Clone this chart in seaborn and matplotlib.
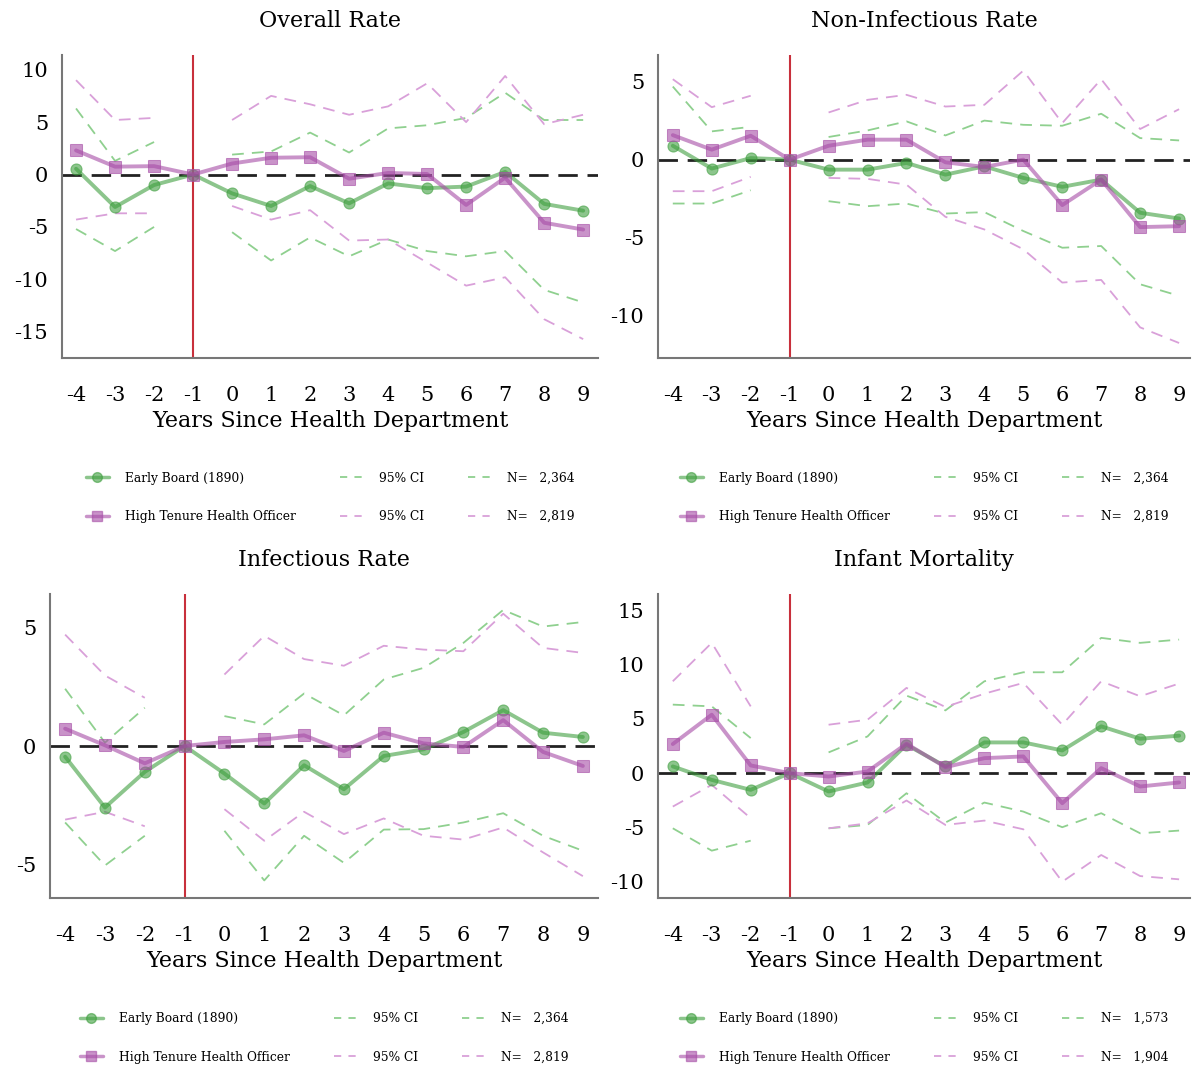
import numpy as np
import pandas as pd
import seaborn as sns
import matplotlib.pyplot as plt
from matplotlib.lines import Line2D

years = [-4, -3, -2, -1, 0, 1, 2, 3, 4, 5, 6, 7, 8, 9]
ci_years = [-4, -3, -2, 0, 1, 2, 3, 4, 5, 6, 7, 8, 9]

titles = ["Overall Rate", "Non-Infectious Rate", "Infectious Rate", "Infant Mortality"]
n_early = ["2,364", "2,364", "2,364", "1,573"]
n_high = ["2,819", "2,819", "2,819", "1,904"]
yticks = [[10, 5, 0, -5, -10, -15], [5, 0, -5, -10], [5, 0, -5], [15, 10, 5, 0, -5, -10]]
ylims = [(-17.5, 11.4), (-12.7, 6.7), (-6.4, 6.4), (-11.5, 16.5)]

# Overall Rate
overall_early = [0.55, -3.1, -1.0, 0, -1.8, -3.0, -1.1, -2.75, -0.85, -1.3, -1.15, 0.25, -2.8, -3.45]
overall_high = [2.3, 0.75, 0.8, 0, 1.05, 1.6, 1.65, -0.4, 0.15, 0.05, -2.9, -0.3, -4.6, -5.25]
overall_early_hi = [6.3, 1.3, 3.1, 1.9, 2.2, 4.0, 2.1, 4.4, 4.7, 5.4, 7.8, 5.2, 5.2]
overall_early_lo = [-5.2, -7.3, -5.0, -5.5, -8.2, -6.0, -7.8, -6.2, -7.3, -7.8, -7.3, -11.0, -12.2]
overall_high_hi = [9.0, 5.2, 5.4, 5.2, 7.5, 6.7, 5.7, 6.5, 8.7, 5.0, 9.4, 4.8, 5.7]
overall_high_lo = [-4.3, -3.7, -3.7, -3.0, -4.3, -3.4, -6.3, -6.2, -8.4, -10.6, -9.8, -13.8, -15.7]

# Non-Infectious Rate
noninf_early = [0.89, -0.57, 0.1, 0, -0.64, -0.64, -0.21, -0.96, -0.43, -1.17, -1.74, -1.28, -3.4, -3.77]
noninf_high = [1.57, 0.64, 1.53, 0, 0.89, 1.28, 1.28, -0.17, -0.47, 0.0, -2.91, -1.28, -4.32, -4.26]
noninf_early_hi = [4.68, 1.81, 2.1, 1.45, 1.87, 2.45, 1.55, 2.5, 2.23, 2.17, 2.94, 1.38, 1.23]
noninf_early_lo = [-2.81, -2.81, -1.96, -2.66, -2.98, -2.81, -3.45, -3.36, -4.57, -5.64, -5.53, -7.98, -8.72]
noninf_high_hi = [5.15, 3.36, 4.09, 3.02, 3.83, 4.15, 3.4, 3.51, 5.7, 2.34, 5.15, 1.96, 3.23]
noninf_high_lo = [-2.02, -2.02, -1.1, -1.17, -1.23, -1.6, -3.66, -4.47, -5.74, -7.87, -7.7, -10.74, -11.74]

# Infectious Rate
inf_early = [-0.45, -2.59, -1.09, 0, -1.16, -2.42, -0.81, -1.82, -0.42, -0.14, 0.59, 1.51, 0.56, 0.38]
inf_high = [0.73, 0.03, -0.73, 0, 0.17, 0.28, 0.45, -0.21, 0.56, 0.11, -0.04, 1.09, -0.25, -0.84]
inf_early_hi = [2.41, 0.14, 1.61, 1.26, 0.91, 2.21, 1.29, 2.8, 3.29, 4.34, 5.73, 5.03, 5.22]
inf_early_lo = [-3.22, -5.03, -3.78, -3.57, -5.66, -3.78, -4.92, -3.52, -3.5, -3.22, -2.83, -3.78, -4.41]
inf_high_hi = [4.69, 2.97, 2.03, 3.01, 4.64, 3.66, 3.38, 4.22, 4.06, 3.99, 5.57, 4.13, 3.92]
inf_high_lo = [-3.1, -2.77, -3.38, -2.66, -3.99, -2.77, -3.71, -3.05, -3.78, -3.94, -3.43, -4.48, -5.48]

# Infant Mortality
infant_early = [0.62, -0.62, -1.54, 0, -1.69, -0.86, 2.62, 0.62, 2.83, 2.83, 2.09, 4.31, 3.17, 3.45]
infant_high = [2.68, 5.38, 0.71, 0, -0.31, 0.15, 2.71, 0.55, 1.38, 1.54, -2.77, 0.46, -1.23, -0.86]
infant_early_hi = [6.31, 6.15, 3.23, 1.91, 3.38, 7.14, 5.78, 8.46, 9.29, 9.29, 12.46, 12.0, 12.3]
infant_early_lo = [-5.08, -7.14, -6.22, -5.08, -4.77, -1.85, -4.55, -2.71, -3.54, -4.98, -3.69, -5.54, -5.29]
infant_high_hi = [8.46, 12.0, 6.15, 4.46, 4.92, 7.85, 6.09, 7.32, 8.31, 4.46, 8.46, 7.08, 8.25]
infant_high_lo = [-3.08, -1.08, -4.15, -5.08, -4.62, -2.52, -4.77, -4.37, -5.17, -10.0, -7.54, -9.48, -9.78]

panels = [
    (overall_early, overall_high, overall_early_lo, overall_early_hi, overall_high_lo, overall_high_hi),
    (noninf_early, noninf_high, noninf_early_lo, noninf_early_hi, noninf_high_lo, noninf_high_hi),
    (inf_early, inf_high, inf_early_lo, inf_early_hi, inf_high_lo, inf_high_hi),
    (infant_early, infant_high, infant_early_lo, infant_early_hi, infant_high_lo, infant_high_hi),
]

sns.set_style("white")
plt.rcParams['font.family'] = ['DejaVu Serif']
plt.rcParams['axes.unicode_minus'] = False
for k in ['text.color', 'axes.labelcolor', 'xtick.color', 'ytick.color']:
    plt.rcParams[k] = 'black'

green = "#3f9f3f"
purple = "#a64ca6"
green_ci = "#8fd08f"
purple_ci = "#d9a0d9"
red = "#c8303c"

fig = plt.figure(figsize=(11.92, 10.68), dpi=100)
positions = [
    [62 / 1192, 1 - 358 / 1068, 536 / 1192, 303 / 1068],
    [658 / 1192, 1 - 358 / 1068, 532 / 1192, 303 / 1068],
    [50 / 1192, 1 - 898 / 1068, 548 / 1192, 304 / 1068],
    [658 / 1192, 1 - 898 / 1068, 532 / 1192, 304 / 1068],
]
xlims = [(-4.36, 9.38), (-4.38, 9.28), (-4.38, 9.38), (-4.38, 9.28)]

ci_dash = (0, (6.5, 4.5))
for i, (early, high, elo, ehi, hlo, hhi) in enumerate(panels):
    ax = fig.add_axes(positions[i])
    ax.axhline(0, color="#222222", lw=2, ls=(0, (7, 3.5)), zorder=1)
    ax.axvline(-1, color=red, lw=1.5, zorder=1)

    ci = pd.DataFrame({"year": ci_years, "elo": elo, "ehi": ehi, "hlo": hlo, "hhi": hhi})
    for part in [ci[ci.year < -1], ci[ci.year > -1]]:
        for col, c in [("elo", green_ci), ("ehi", green_ci), ("hlo", purple_ci), ("hhi", purple_ci)]:
            sns.lineplot(data=part, x="year", y=col, ax=ax, color=c, lw=1.3,
                         linestyle=ci_dash, zorder=2)

    main = pd.DataFrame({"year": years, "early": early, "high": high})
    sns.lineplot(data=main, x="year", y="early", ax=ax, color=green, lw=2.8, alpha=0.6,
                 marker="o", markersize=8, markeredgecolor=green, zorder=3)
    sns.lineplot(data=main, x="year", y="high", ax=ax, color=purple, lw=2.8, alpha=0.6,
                 marker="s", markersize=8, markeredgecolor=purple, zorder=3)

    ax.set_xlim(xlims[i])
    ax.set_ylim(ylims[i])
    ax.set_xticks(years)
    ax.set_yticks(yticks[i])
    ax.tick_params(length=0, labelsize=15)
    ax.tick_params(axis="x", pad=20)
    ax.tick_params(axis="y", pad=10)
    ax.set_title(titles[i], fontsize=16, pad=20)
    ax.set_xlabel("Years Since Health Department", fontsize=16, labelpad=4)
    ax.set_ylabel("")
    sns.despine(ax=ax)
    for s in ["left", "bottom"]:
        ax.spines[s].set_color("#777777")
        ax.spines[s].set_linewidth(1.5)

    handles = [
        Line2D([], [], color=green, lw=2.5, alpha=0.6, marker="o", markersize=7),
        Line2D([], [], color=purple, lw=2.5, alpha=0.6, marker="s", markersize=7),
        Line2D([], [], color=green_ci, lw=1.3, ls=(0, (4, 4))),
        Line2D([], [], color=purple_ci, lw=1.3, ls=(0, (4, 4))),
        Line2D([], [], color=green_ci, lw=1.3, ls=(0, (4, 4))),
        Line2D([], [], color=purple_ci, lw=1.3, ls=(0, (4, 4))),
    ]
    labels = ["Early Board (1890)", "High Tenure Health Officer", "95% CI", "95% CI",
              "N=   " + n_early[i], "N=   " + n_high[i]]
    ax.legend(handles, labels, ncol=3, loc="center", bbox_to_anchor=(0.5, -0.46),
              frameon=False, fontsize=8.8, handlelength=1.9, handletextpad=1.3,
              columnspacing=3.6, labelspacing=2.1)

fig.savefig("out.png", dpi=100)
